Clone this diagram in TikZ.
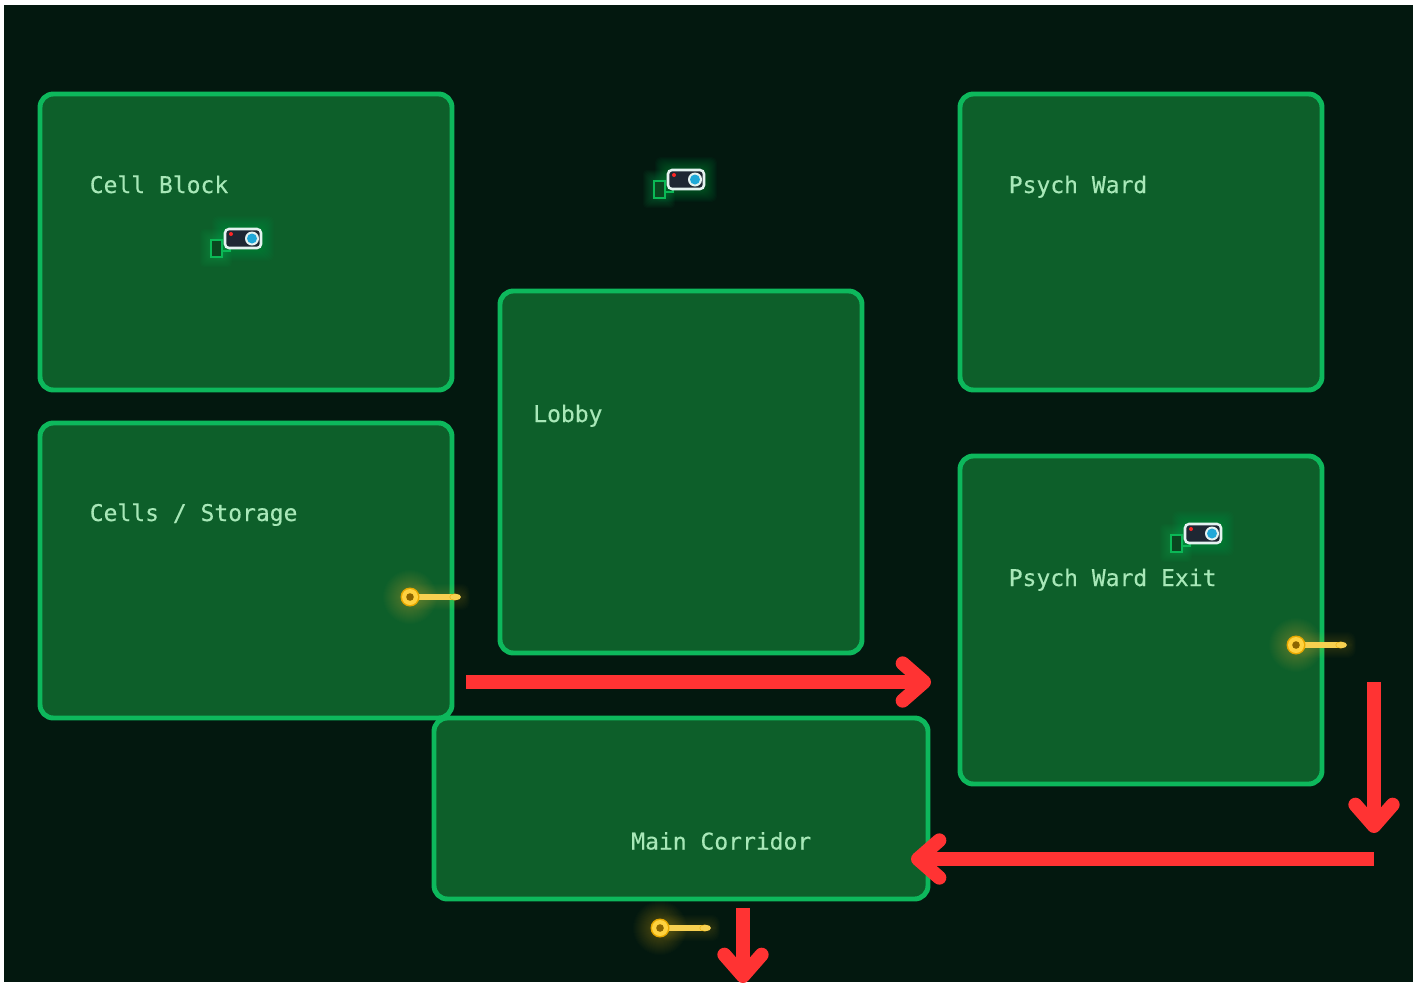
\documentclass[tikz,border=0pt]{standalone}
\usepackage{fontspec}
\newfontfamily\labelfont[RawFeature={embolden=0.3}]{DejaVu Sans Mono}
\usetikzlibrary{arrows.meta,calc}
\definecolor{bgdark}{HTML}{03180F}
\definecolor{roomfill}{HTML}{0D5F2A}
\definecolor{roomline}{HTML}{0DB85C}
\definecolor{labeltxt}{HTML}{A8E8B8}
\definecolor{arrowred}{HTML}{FF3333}
\definecolor{keygold}{HTML}{FFD23F}
\definecolor{keyshaft}{HTML}{F8D050}
\definecolor{keyedge}{HTML}{E8A800}
\definecolor{cambody}{HTML}{1E2733}
\definecolor{camline}{HTML}{E4F2F0}
\definecolor{camlens}{HTML}{1FA8D8}
\definecolor{camgreen}{HTML}{0BB856}
\tikzset{
  x=0.75pt,y=-0.75pt,
  room/.style n args={2}{draw=roomline,fill=roomfill,line width=3.7pt,rounded corners=10pt,
    minimum width=#1*0.75pt,minimum height=#2*0.75pt,inner sep=0pt},
  roomlabel/.style={anchor=base west,inner sep=0pt,text=labeltxt,font=\labelfont\fontsize{17.25pt}{20pt}\selectfont},
  redarrow/.style={draw=arrowred,line width=10.5pt,
    -{Straight Barb[round,length=16pt,width=28pt,line width=10.5pt]}},
  pics/camera/.style={code={
    \foreach \r in {1,2,...,13}{\fill[teal!60!green,opacity=0.035,rounded corners=4pt] (-\r,-\r) rectangle (36+\r,19+\r);}
    \foreach \r in {1,2,...,10}{\fill[camgreen,opacity=0.035,rounded corners=3pt] (-15-\r,10-\r) rectangle (-3+\r,28+\r);}
    \draw[camgreen,line width=1.7pt] (-3,22) -- (5,22) -- (5,19);
    \draw[camgreen,fill=roomfill!75!black,line width=1.7pt] (-14,11) rectangle (-3,28);
    \draw[camline,fill=cambody,line width=1.9pt,rounded corners=3pt] (0,0) rectangle (36,19);
    \fill[camline] (27,9.5) circle (7);
    \fill[camlens] (27,9.5) circle (5);
    \fill[red!85!white] (6,5) circle (2);
  }},
  pics/gatekey/.style={code={
    \foreach \r in {9,10,...,27}{\fill[keygold,opacity=0.014] (0,0) circle (\r);}
    \foreach \r in {4,5,...,13}{\fill[keygold,opacity=0.014,rounded corners=6pt] (0,-\r) rectangle (52+\r*0.6,\r);}
    \fill[keyshaft] (8,-3) rectangle (42,3);
    \fill[keyedge] (44.5,0) ellipse (5 and 3.4);
    \fill[keyshaft] (45.5,0) ellipse (5.5 and 3.2);
    \fill[keyedge] (0,0) circle (9.5);
    \fill[keygold] (0,0) circle (8);
    \fill[keyedge!60!black] (0,0) circle (3.8);
  }}
}
\begin{document}
\begin{tikzpicture}
\useasboundingbox (0,0) rectangle (1421,982);
\fill[white] (0,0) rectangle (1421,982);
\fill[bgdark] (4,5) rectangle (1413,982);

\node[room={412}{296}] (cellblock) at (246,242) {};
\node[room={412}{295}] (cells) at (246,570.5) {};
\node[room={362}{362}] (lobby) at (681,472) {};
\node[room={362}{296}] (psych) at (1141,242) {};
\node[room={362}{328}] (psychexit) at (1141,620) {};
\node[room={494}{181}] (corridor) at (681,808.5) {};

\node[roomlabel] (lcellblock) at (89.5,193) {Cell Block};
\node[roomlabel] (lcells) at (89.5,521) {Cells / Storage};
\node[roomlabel] (llobby) at (533,422) {Lobby};
\node[roomlabel] (lpsych) at (1008.5,193) {Psych Ward};
\node[roomlabel] (lpsychexit) at (1008.5,586) {Psych Ward Exit};
\node[roomlabel] (lcorridor) at (631,849.5) {Main Corridor};

\pic at (668,170) {camera};
\pic at (225,229) {camera};
\pic at (1185,524) {camera};

\pic at (410,597) {gatekey};
\pic at (1296,645) {gatekey};
\pic at (660,928) {gatekey};

\coordinate (a1s) at (466,682);
\coordinate (a1e) at (931,682);
\coordinate (a2s) at (1374,682);
\coordinate (a2e) at (1374,833);
\coordinate (a3s) at (1374,859);
\coordinate (a3e) at (911,859);
\coordinate (a4s) at (743,908);
\coordinate (a4e) at (743,983);
\draw[redarrow] (a1s) -- (a1e);
\draw[redarrow] (a2s) -- (a2e);
\draw[redarrow] (a3s) -- (a3e);
\draw[redarrow] (a4s) -- (a4e);
\end{tikzpicture}
\end{document}
